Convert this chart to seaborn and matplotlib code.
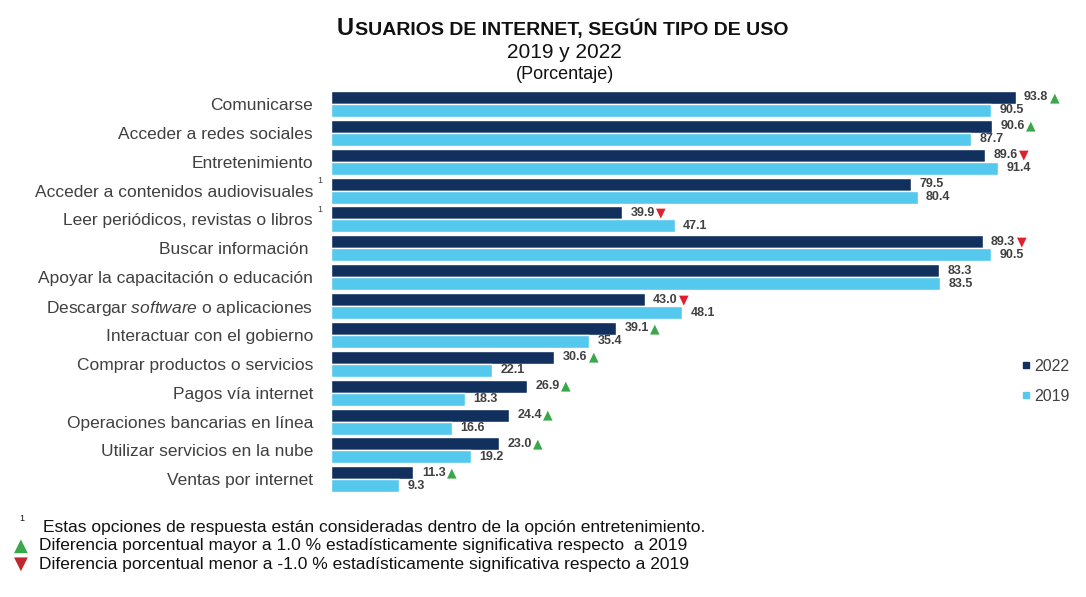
import pandas as pd
import numpy as np
import matplotlib
matplotlib.use('Agg')
import matplotlib.pyplot as plt
import seaborn as sns
from matplotlib.lines import Line2D

# datos
usos = ['Comunicarse', 'Acceder a redes sociales', 'Entretenimiento',
        'Acceder a contenidos audiovisuales', 'Leer periódicos, revistas o libros',
        'Buscar información ', 'Apoyar la capacitación o educación',
        r'Descargar $\mathit{software}$ o aplicaciones', 'Interactuar con el gobierno',
        'Comprar productos o servicios', 'Pagos vía internet',
        'Operaciones bancarias en línea', 'Utilizar servicios en la nube',
        'Ventas por internet']
v2022 = [93.8, 90.6, 89.6, 79.5, 39.9, 89.3, 83.3, 43.0, 39.1, 30.6, 26.9, 24.4, 23.0, 11.3]
v2019 = [90.5, 87.7, 91.4, 80.4, 47.1, 90.5, 83.5, 48.1, 35.4, 22.1, 18.3, 16.6, 19.2, 9.3]
# 1 = aumento significativo, -1 = disminucion significativa, 0 = nada
signo = [1, 1, -1, 0, -1, -1, 0, -1, 1, 1, 1, 1, 1, 1]
con_nota = [3, 4]

dark = '#12305e'
light = '#55c8ee'
gris = '#404040'
verde = '#3aa84a'
rojo = '#e0202c'

sns.set_style('white')
plt.rcParams['font.family'] = ['Liberation Sans', 'DejaVu Sans']
plt.rcParams['mathtext.fontset'] = 'custom'
plt.rcParams['mathtext.rm'] = 'Liberation Sans'
plt.rcParams['mathtext.it'] = 'Liberation Sans:italic'

df = pd.DataFrame({
    'uso': usos * 2,
    'valor': v2022 + v2019,
    'anio': ['2022'] * len(usos) + ['2019'] * len(usos),
})

fig = plt.figure(figsize=(10.86, 5.97), dpi=100)
ax = fig.add_axes([0.3048, 0.173, 0.672, 0.677])

sns.barplot(data=df, y='uso', x='valor', hue='anio', hue_order=['2022', '2019'],
            order=usos, palette=[dark, light], orient='h', width=0.9,
            saturation=1, ax=ax, legend=False)

ax.set_xlim(0, 100)
ax.set_ylim(len(usos) - 0.5, -0.5)
ax.set_xlabel('')
ax.set_ylabel('')
ax.set_xticks([])
ax.tick_params(axis='y', length=0, pad=13, labelsize=12.5, labelcolor=gris)
sns.despine(ax=ax, left=True, bottom=True)

# etiquetas de valor
labs22 = ax.bar_label(ax.containers[0], fmt='%.1f', padding=6, fontsize=9,
                      fontweight='bold', color=gris)
ax.bar_label(ax.containers[1], fmt='%.1f', padding=6, fontsize=9,
             fontweight='bold', color=gris)

for t, s in zip(labs22, signo):
    if s == 0:
        continue
    ax.annotate('▲' if s > 0 else '▼', xy=(1, 0.5), xycoords=t,
                xytext=(1, 0), textcoords='offset points',
                va='center', ha='left', fontsize=9,
                color=verde if s > 0 else rojo, family='DejaVu Sans')

for i in con_nota:
    ax.annotate('1', xy=(0, i), xycoords=('axes fraction', 'data'),
                xytext=(-8, 7), textcoords='offset points',
                fontsize=6.5, color=gris, ha='center', va='center')

# leyenda
handles = [Line2D([], [], marker='s', ls='', color=dark, markersize=5),
           Line2D([], [], marker='s', ls='', color=light, markersize=5)]
leg = fig.legend(handles, ['2022', '2019'], loc='center left',
                 bbox_to_anchor=(0.933, 0.361), frameon=False, fontsize=11.5,
                 labelspacing=0.95, handlelength=0.6, handletextpad=0.2,
                 borderpad=0)
for t in leg.get_texts():
    t.set_color(gris)

# titulos
u = fig.text(0.310, 0.942, 'U', fontsize=17, fontweight='bold', color='#111111',
             va='baseline', ha='left')
fig.canvas.draw()
bb = u.get_window_extent()
fig.text(bb.x1 / fig.bbox.width + 0.001, 0.942, 'SUARIOS DE INTERNET, SEGÚN TIPO DE USO',
         va='baseline', ha='left', fontsize=14, fontweight='bold', color='#111111')
fig.text(0.520, 0.9035, '2019 y 2022', fontsize=15, ha='center', va='baseline',
         color='#111111')
fig.text(0.520, 0.868, '(Porcentaje)', fontsize=13, ha='center', va='baseline',
         color='#111111')

# notas
fig.text(0.018, 0.128, '1', fontsize=6.5, color='#111111', va='baseline')
fig.text(0.040, 0.109, 'Estas opciones de respuesta están consideradas dentro de la opción entretenimiento.',
         fontsize=12.5, color='#111111', va='baseline')
fig.text(0.013, 0.078, '▲', fontsize=13, color=verde, va='baseline', family='DejaVu Sans')
fig.text(0.036, 0.078, 'Diferencia porcentual mayor a 1.0 % estadísticamente significativa respecto  a 2019',
         fontsize=12.5, color='#111111', va='baseline')
fig.text(0.013, 0.047, '▼', fontsize=13, color='#c0272d', va='baseline', family='DejaVu Sans')
fig.text(0.036, 0.047, 'Diferencia porcentual menor a -1.0 % estadísticamente significativa respecto a 2019',
         fontsize=12.5, color='#111111', va='baseline')

fig.savefig('out.png', dpi=100)
